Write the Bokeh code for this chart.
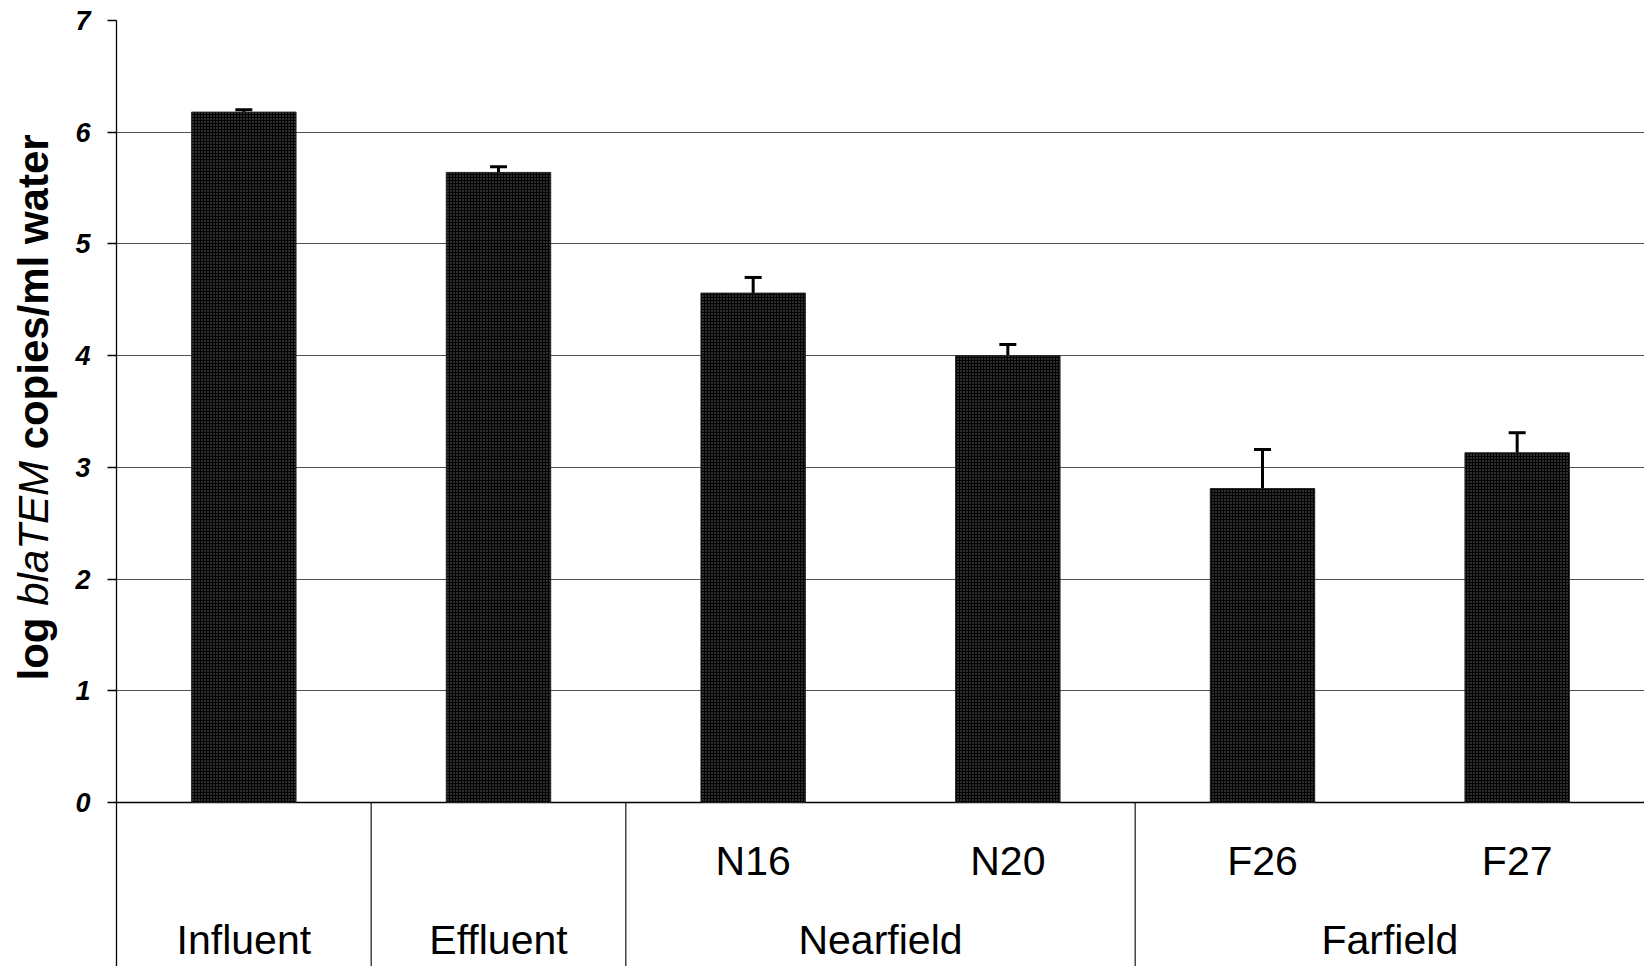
import numpy as np
from bokeh.plotting import figure
from bokeh.layouts import row
from bokeh.models import Range1d, FixedTicker, ColumnDataSource, Whisker, TeeHead, Label
from bokeh.core.properties import value
from bokeh.embed import file_html
from bokeh.resources import INLINE

# ---- data ----
categories = ["Influent", "Effluent", "N16", "N20", "F26", "F27"]
log_copies = [6.18, 5.64, 4.56, 4.00, 2.81, 3.13]
errors = [0.02, 0.05, 0.14, 0.10, 0.35, 0.18]
sub_labels = ["", "", "N16", "N20", "F26", "F27"]
groups = ["Influent", "Effluent", "Nearfield", "Farfield"]
group_start = [0, 1, 2, 4]
group_end = [1, 2, 4, 6]
y_ticks = [0, 1, 2, 3, 4, 5, 6, 7]

FONT = "Liberation Sans"
Y_MIN = -1.468
Y_MAX = 7
W, H = 1644, 966
TITLE_W = 62
LEFT, TOP = 116, 20

xs = np.arange(len(categories)) + 0.5

# ---- narrow panel holding the styled y-axis title ----
t = figure(width=TITLE_W, height=H, output_backend="svg", toolbar_location=None,
           x_range=Range1d(0, TITLE_W), y_range=Range1d(0, H),
           x_axis_location=None, y_axis_location=None,
           min_border_left=0, min_border_right=0, min_border_top=0, min_border_bottom=0)
t.outline_line_color = None
t.xgrid.visible = False
t.ygrid.visible = False
FS = 42
SPACE = 0.278
start = 680  # screen y where the title begins (bottom)
# (text, style, advance in em including the following space)
pieces = [("log", "bold", 1.5 + SPACE), ("blaTEM", "italic", 3.445 + SPACE), ("copies/ml water", "bold", 7.5)]
for txt, style, em in pieces:
    t.add_layout(Label(x=33, y=H - start, x_units="screen", y_units="screen",
                       text=txt, angle=np.pi / 2, text_font=FONT, text_font_style=style,
                       text_font_size=f"{FS}px", text_align="left", text_baseline="middle",
                       text_color="black"))
    start -= em * FS

# ---- main chart ----
p = figure(width=W - TITLE_W, height=H, output_backend="svg", toolbar_location=None,
           x_range=Range1d(0, len(categories)), y_range=Range1d(Y_MIN, Y_MAX),
           x_axis_location=None,
           min_border_left=LEFT - TITLE_W, min_border_right=0, min_border_top=TOP, min_border_bottom=0)
p.outline_line_color = None
p.background_fill_color = "white"
p.border_fill_color = "white"
p.xgrid.visible = False

p.ygrid.ticker = FixedTicker(ticks=y_ticks[1:])
p.ygrid.grid_line_color = "#505050"
p.ygrid.grid_line_width = 1.2

yax = p.yaxis[0]
yax.ticker = FixedTicker(ticks=y_ticks)
yax.axis_line_color = "black"
yax.axis_line_width = 1.3
yax.major_tick_line_color = "black"
yax.major_tick_line_width = 1.3
yax.major_tick_out = 9
yax.major_tick_in = 0
yax.minor_tick_line_color = None
yax.major_label_standoff = 17
yax.major_label_text_font = FONT
yax.major_label_text_font_style = "bold italic"
yax.major_label_text_font_size = "27px"
yax.major_label_text_color = "black"

# x axis line at 0
p.segment(x0=[0], y0=[0], x1=[len(categories)], y1=[0], line_color="black", line_width=1.5)

# group separators below the axis
sep = group_end[:-1]
p.segment(x0=sep, y0=[0] * len(sep), x1=sep, y1=[Y_MIN] * len(sep),
          line_color="black", line_width=1.1)

# bars
src = ColumnDataSource(dict(x=xs, top=log_copies,
                            upper=[v + e for v, e in zip(log_copies, errors)]))
p.vbar(x="x", top="top", bottom=0, width=0.41, source=src,
       fill_color="black", line_color="#222222", line_width=1,
       hatch_pattern="dot", hatch_color="white", hatch_scale=3, hatch_weight=0.4, hatch_alpha=0.45)

wh = Whisker(base="x", lower="top", upper="upper", source=src,
             line_color="black", line_width=3,
             upper_head=TeeHead(size=17, line_width=3, line_color="black"),
             lower_head=None)
p.add_layout(wh)

# category labels
p.text(x=xs, y=[-0.52] * len(xs), text=sub_labels,
       text_font=value(FONT), text_font_size="41px", text_align="center",
       text_baseline="middle", text_color="black")
gx = [(a + b) / 2 for a, b in zip(group_start, group_end)]
p.text(x=gx, y=[-1.235] * len(gx), text=groups,
       text_font=value(FONT), text_font_size="41px", text_align="center",
       text_baseline="middle", text_color="black")

layout = row(t, p, spacing=0)
open("out.html", "w").write(file_html(layout, INLINE))
